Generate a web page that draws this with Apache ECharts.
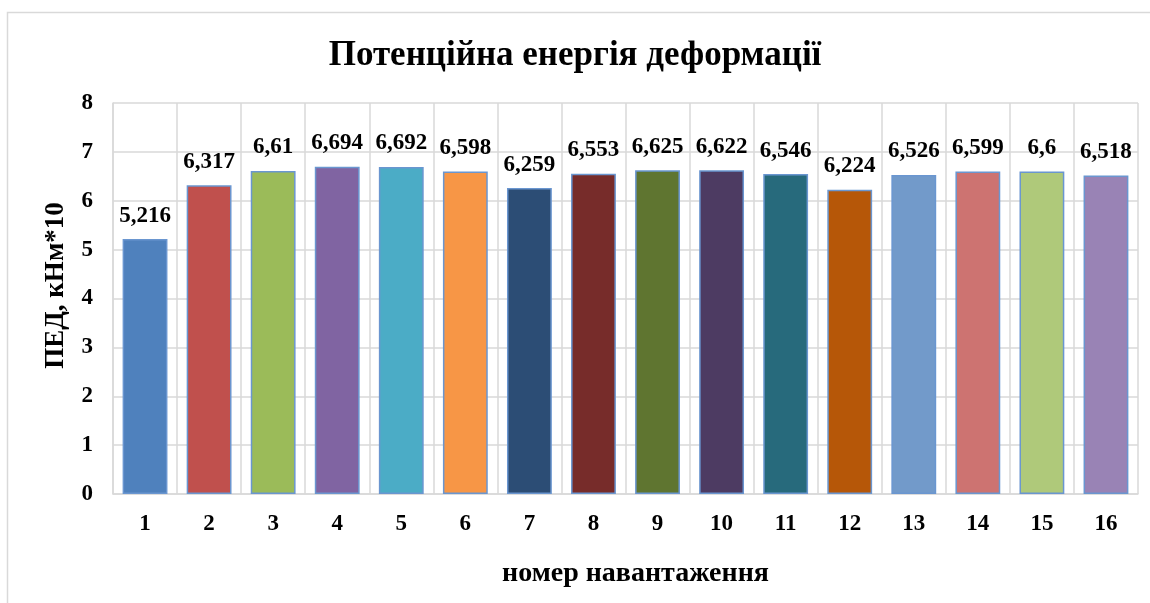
<!DOCTYPE html>
<html><head><meta charset="utf-8">
<script src="https://cdn.jsdelivr.net/npm/echarts@6/dist/echarts.min.js"></script>
<style>html,body{margin:0;padding:0;background:#fff}#c{width:1150px;height:603px}</style>
</head><body><div id="c"></div>
<script>
const categories = ['1','2','3','4','5','6','7','8','9','10','11','12','13','14','15','16'];
const values = [5.216, 6.317, 6.61, 6.694, 6.692, 6.598, 6.259, 6.553, 6.625, 6.622, 6.546, 6.224, 6.526, 6.599, 6.6, 6.518];
const barColors = ['#4f81bd','#c0504d','#9bbb59','#8064a2','#4bacc6','#f79646','#2c4d75','#772c2a','#5f7530','#4d3b62','#276a7c','#b65708','#729aca','#cd7371','#afc97a','#9983b5'];
const titleText = 'Потенційна енергія деформації';
const yName = 'ПЕД, кНм*10';
const xName = 'номер навантаження';
const font = '"Liberation Serif", "Times New Roman", serif';

const chart = echarts.init(document.getElementById('c'), null, {renderer:'canvas'});
chart.setOption({
  animation:false,
  backgroundColor:'#fff',
  graphic:[{type:'rect', shape:{x:7.5,y:12.5,width:1160,height:620}, style:{fill:'none', stroke:'#d9d9d9', lineWidth:1.5}, silent:true}],
  title:{text:titleText, left:'center', top:33, textStyle:{fontFamily:font, fontWeight:'bold', fontSize:35, color:'#000'}},
  grid:{left:113, right:12, top:103, bottom:109, containLabel:false},
  xAxis:{type:'category', data:categories,
    name:xName, nameLocation:'middle', nameGap:66,
    nameTextStyle:{fontFamily:font, fontWeight:'bold', fontSize:28, color:'#000', padding:[0,0,0,20]},
    axisLine:{show:true, lineStyle:{color:'#d9d9d9', width:1.5}},
    axisTick:{show:false},
    splitLine:{show:true, lineStyle:{color:'#d9d9d9', width:1.5}},
    axisLabel:{fontFamily:font, fontWeight:'bold', fontSize:23, color:'#000', margin:19}},
  yAxis:{type:'value', min:0, max:8, interval:1,
    name:yName, nameLocation:'middle', nameGap:43, nameRotate:90,
    nameTextStyle:{fontFamily:font, fontWeight:'bold', fontSize:27, color:'#000', padding:[0,0,0,26]},
    axisLine:{show:true, lineStyle:{color:'#d9d9d9', width:1.5}},
    axisTick:{show:false},
    splitLine:{show:true, lineStyle:{color:'#d9d9d9', width:1.5}},
    axisLabel:{fontFamily:font, fontWeight:'bold', fontSize:23, color:'#000', margin:20}},
  series:[{type:'bar', barWidth:'70%',
    data:values.map((v,i)=>({value:v, itemStyle:{color:barColors[i]}})),
    itemStyle:{borderColor:'#6a96d0', borderWidth:1.5},
    label:{show:true, position:'top', distance:12, fontFamily:font, fontWeight:'bold', fontSize:23, color:'#000',
      formatter:p=>String(p.value).replace('.', ',')}
  }]
});
</script></body></html>
